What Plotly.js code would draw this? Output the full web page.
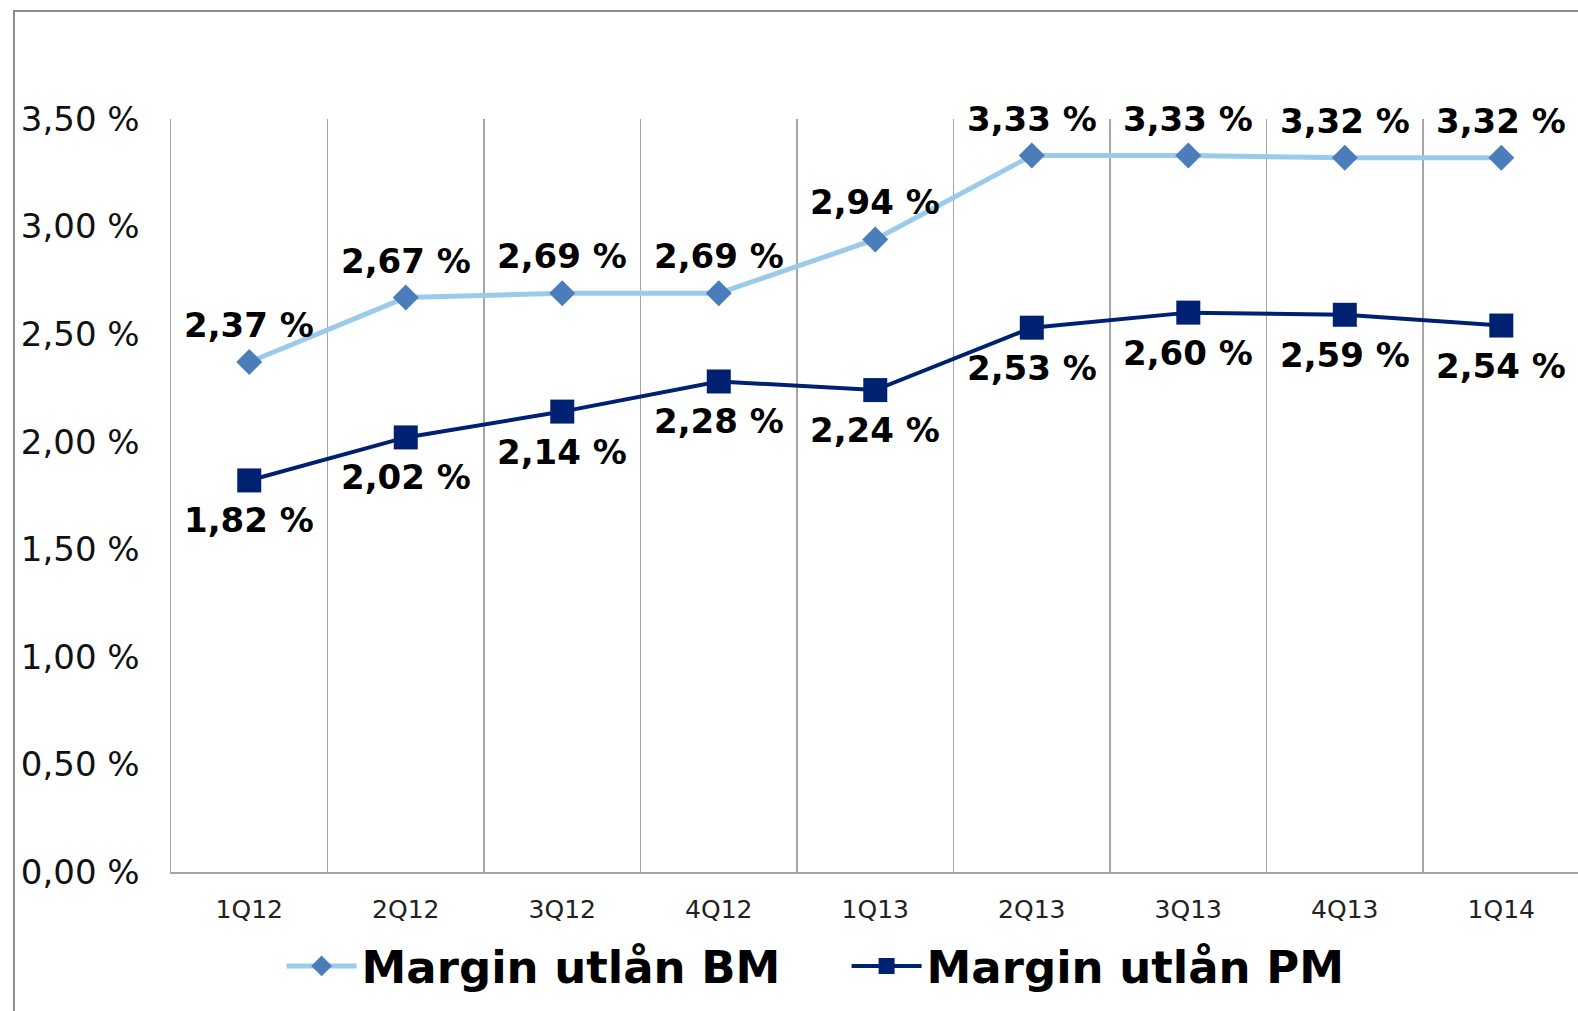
<!DOCTYPE html>
<html>
<head>
<meta charset="utf-8">
<script src="https://cdn.plot.ly/plotly-3.0.1.min.js"></script>
<style>html,body{margin:0;padding:0;background:#fff;}#chart{width:1578px;height:1011px;}</style>
</head>
<body>
<div id="chart"></div>
<script>
const categories = ['1Q12','2Q12','3Q12','4Q12','1Q13','2Q13','3Q13','4Q13','1Q14'];
const marginBM = [2.37, 2.67, 2.69, 2.69, 2.94, 3.33, 3.33, 3.32, 3.32];
const marginPM = [1.82, 2.02, 2.14, 2.28, 2.24, 2.53, 2.60, 2.59, 2.54];
const seriesNames = ['Margin utlån BM', 'Margin utlån PM'];

const fmt = v => v.toFixed(2).replace('.', ',') + ' %';
const labelFont = {family: 'DejaVu Sans, Verdana, sans-serif', size: 34, color: '#000', weight: 'bold'};

const annotations = [];
categories.forEach((c, i) => {
  annotations.push({x: c, y: marginBM[i], xref: 'x', yref: 'y', text: fmt(marginBM[i]),
    showarrow: false, yshift: 37, font: labelFont});
  annotations.push({x: c, y: marginPM[i], xref: 'x', yref: 'y', text: fmt(marginPM[i]),
    showarrow: false, yshift: -40, font: labelFont});
});

const traces = [
  {x: categories, y: marginBM, name: seriesNames[0], type: 'scatter', mode: 'lines+markers',
   line: {color: '#9ACBEA', width: 5}, marker: {symbol: 'diamond', size: 20, color: '#4A7DBA'}},
  {x: categories, y: marginPM, name: seriesNames[1], type: 'scatter', mode: 'lines+markers',
   line: {color: '#002072', width: 4}, marker: {symbol: 'square', size: 24, color: '#002072'}}
];

const layout = {
  width: 1578, height: 1011,
  margin: {l: 171, r: 0, t: 119, b: 139},
  paper_bgcolor: '#fff', plot_bgcolor: '#fff',
  separators: ', ',
  showlegend: true,
  legend: {orientation: 'h', x: 0.0786, xanchor: 'left', y: -0.125, yanchor: 'middle',
    font: {family: 'DejaVu Sans, Verdana, sans-serif', size: 45, color: '#000', weight: 'bold'},
    itemwidth: 70, entrywidth: 480, entrywidthmode: 'pixels', traceorder: 'normal'},
  xaxis: {type: 'category', range: [-0.5, 8.49], tickson: 'boundaries', showgrid: true,
    gridcolor: '#A6A6A6', gridwidth: 1.5, ticks: '', showline: true, linecolor: '#A6A6A6', linewidth: 2,
    tickfont: {family: 'DejaVu Sans, Verdana, sans-serif', size: 25, color: '#222'},
    ticklabelstandoff: 14, fixedrange: true},
  yaxis: {range: [0, 3.5], dtick: 0.5, tick0: 0, tickformat: '.2f', ticksuffix: ' %',
    showgrid: false, zeroline: false, showline: true, linecolor: '#A6A6A6', linewidth: 1.5, ticks: '',
    tickfont: {family: 'DejaVu Sans, Verdana, sans-serif', size: 34, color: '#111'},
    ticklabelstandoff: 23, fixedrange: true},
  annotations: annotations,
  shapes: [
    {type: 'rect', xref: 'paper', yref: 'paper', x0: -0.1116, x1: 1.02, y0: -0.2, y1: 1.1434,
     line: {color: '#8C8C8C', width: 2}, fillcolor: 'rgba(0,0,0,0)', layer: 'below'}
  ]
};

Plotly.newPlot('chart', traces, layout, {displayModeBar: false, staticPlot: true});
</script>
</body>
</html>
